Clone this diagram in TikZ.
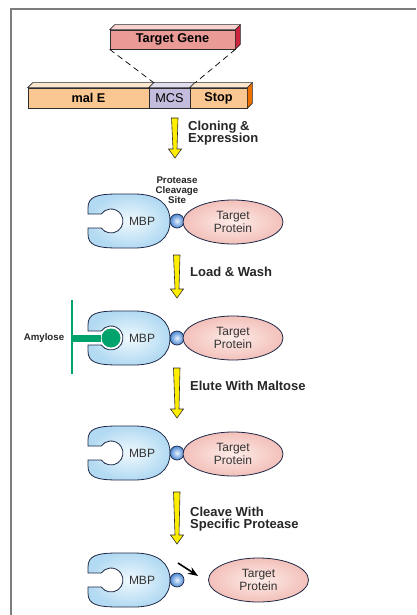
\documentclass[tikz,border=0pt]{standalone}
\usepackage{fontspec}
\setmainfont{Liberation Sans}
\usepackage{tikz}
\usetikzlibrary{
	arrows.meta,
	positioning,
	shapes.geometric
}
\usepackage{xcolor}

\definecolor{edge}{RGB}{45,45,45}
\definecolor{genefront}{RGB}{234,155,150}
\definecolor{genetop}{RGB}{247,210,206}
\definecolor{geneside}{RGB}{205,35,60}
\definecolor{malfront}{RGB}{250,198,145}
\definecolor{maltop}{RGB}{253,230,206}
\definecolor{malside}{RGB}{238,112,0}
\definecolor{mcsfront}{RGB}{195,188,220}
\definecolor{mcstop}{RGB}{226,222,240}
\definecolor{mbpin}{RGB}{240,249,254}
\definecolor{mbpout}{RGB}{178,218,242}
\definecolor{mbpline}{RGB}{30,40,70}
\definecolor{tpin}{RGB}{253,236,232}
\definecolor{tpout}{RGB}{243,192,186}
\definecolor{sitein}{RGB}{232,242,255}
\definecolor{siteout}{RGB}{75,135,210}
\definecolor{amygreen}{RGB}{0,163,108}
\definecolor{arrowyellow}{RGB}{255,238,0}
\definecolor{framegray}{RGB}{125,125,125}

\begin{document}
\begin{tikzpicture}[
			x=1pt,y=-1pt,
			>=Stealth,
			box/.style={draw=edge,line width=0.7pt,minimum height=20pt,inner sep=0pt,
				font=\fontsize{12.7}{13}\selectfont},
			face/.style={draw=edge,line width=0.7pt},
			mbp/.style={draw=mbpline,line width=0.8pt,inner color=mbpin,outer color=mbpout},
			tprot/.style={ellipse,draw=mbpline,line width=0.8pt,inner color=tpin,outer color=tpout,
				minimum width=100pt,minimum height=44pt,inner sep=0pt,align=center,
				font=\fontsize{12}{12.5}\selectfont,text=black!80},
			site/.style={circle,draw=mbpline,line width=0.7pt,inner color=sitein,outer color=siteout,
				minimum size=14pt,inner sep=0pt},
			mbptext/.style={font=\fontsize{12}{12.5}\selectfont,text=black!80,inner sep=0pt},
			steplabel/.style={anchor=west,align=left,inner sep=0pt,
				font=\fontsize{13}{12.5}\selectfont\bfseries,text=black!85},
			smalllabel/.style={align=center,inner sep=0pt,
				font=\fontsize{9.7}{10}\selectfont\bfseries,text=black!85},
			yarrow/.style={draw=edge,line width=0.6pt,fill=arrowyellow},
			frame/.style={draw=framegray,line width=2pt}
			]
			
			\useasboundingbox (0,0) rectangle (416,615);
			\draw[frame] (11,615) -- (11,9) -- (416,9);
			
			% Insert
			\node[box,fill=genefront,minimum width=125pt,minimum height=19pt] (gene) at (172.5,39.5)
				{\bfseries Target Gene};
			\draw[face,fill=genetop] (gene.north west) -- ([shift={(5,-5)}]gene.north west)
				-- ([shift={(5,-5)}]gene.north east) -- (gene.north east) -- cycle;
			\draw[face,fill=geneside] (gene.north east) -- ([shift={(5,-5)}]gene.north east)
				-- ([shift={(5,-5)}]gene.south east) -- (gene.south east) -- cycle;
			
			% Vector
			\node[box,fill=malfront,minimum width=121pt] (male) at (88.5,98) {\bfseries mal E};
			\node[box,fill=mcsfront,minimum width=41pt] (mcs) at (169.5,98) {MCS};
			\node[box,fill=malfront,minimum width=57pt] (stop) at (218.5,98) {\bfseries Stop};
			\foreach \n/\c in {male/maltop,mcs/mcstop,stop/maltop}
			{
				\draw[face,fill=\c] (\n.north west) -- ([shift={(5,-5)}]\n.north west)
					-- ([shift={(5,-5)}]\n.north east) -- (\n.north east) -- cycle;
			}
			\draw[face,fill=malside] (stop.north east) -- ([shift={(5,-5)}]stop.north east)
				-- ([shift={(5,-5)}]stop.south east) -- (stop.south east) -- cycle;
			
			\draw[dashed,line width=0.7pt,dash pattern=on 6pt off 4pt]
				(gene.south west) -- ([shift={(5,-5)}]mcs.north west);
			\draw[dashed,line width=0.7pt,dash pattern=on 6pt off 4pt]
				(gene.south east) -- ([shift={(5,-5)}]mcs.north east);
			
			% Step arrows
			\foreach \x/\ya/\yb in {175/118/158,177/255/298,177/368/418,177/492/544}
			{
				\draw[yarrow] (\x-3.5,\ya) -- (\x+3,\ya) -- (\x+2,\yb-9) -- (\x+6.5,\yb-9)
					-- (\x,\yb) -- (\x-6.5,\yb-9) -- (\x-2,\yb-9) -- cycle;
			}
			
			\node[steplabel] (s1) at (188,133) {Cloning \&\\Expression};
			\node[steplabel] (s2) at (190,272) {Load \& Wash};
			\node[steplabel] (s3) at (190,386) {Elute With Maltose};
			\node[steplabel] (s4) at (190,519) {Cleave With\\Specific Protease};
			
			% Fusion protein
			\foreach \y [count=\i] in {221,338,453,580}
			{
				\begin{scope}[shift={(88,\y)}]
					\draw[mbp] (0,-7) -- (0,-13) .. controls (0,-24) and (8,-27) .. (30,-27)
						-- (46,-27) .. controls (70,-27) and (82,-17) .. (82,0)
						.. controls (82,17) and (70,27) .. (46,27) -- (30,27)
						.. controls (8,27) and (0,24) .. (0,13) -- (0,7) -- (13.25,7)
						arc[start angle=144.3,end angle=-144.3,radius=12] -- cycle;
				\end{scope}
				\node[mbptext] (mbp\i) at (142,\y) {MBP};
				\node[site] (site\i) at (177,\y) {};
			}
			\foreach \y [count=\i] in {222,338,454}
			{
				\node[tprot] (tp\i) at (233,\y) {Target\\Protein};
			}
			\node[tprot] (tp4) at (258.5,580) {Target\\Protein};
			
			\node[smalllabel] (cleave) at (177,190) {Protease\\Cleavage\\Site};
			
			% Amylose column
			\draw[amygreen,line width=2.5pt] (72,300) -- (72,374);
			\node[circle,fill=amygreen,minimum size=19pt,inner sep=0pt] (ball) at (111,338) {};
			\coordinate (stalk) at (72,338);
			\draw[amygreen,line width=7pt] (stalk) -- (ball);
			\node[smalllabel] (amy) at (44,338) {Amylose};
			
			% Release
			\coordinate (cut) at (178,563);
			\draw[->,line width=1.6pt] (cut) -- ([xshift=-10pt,yshift=4pt]tp4.west);
			
		\end{tikzpicture}
\end{document}
